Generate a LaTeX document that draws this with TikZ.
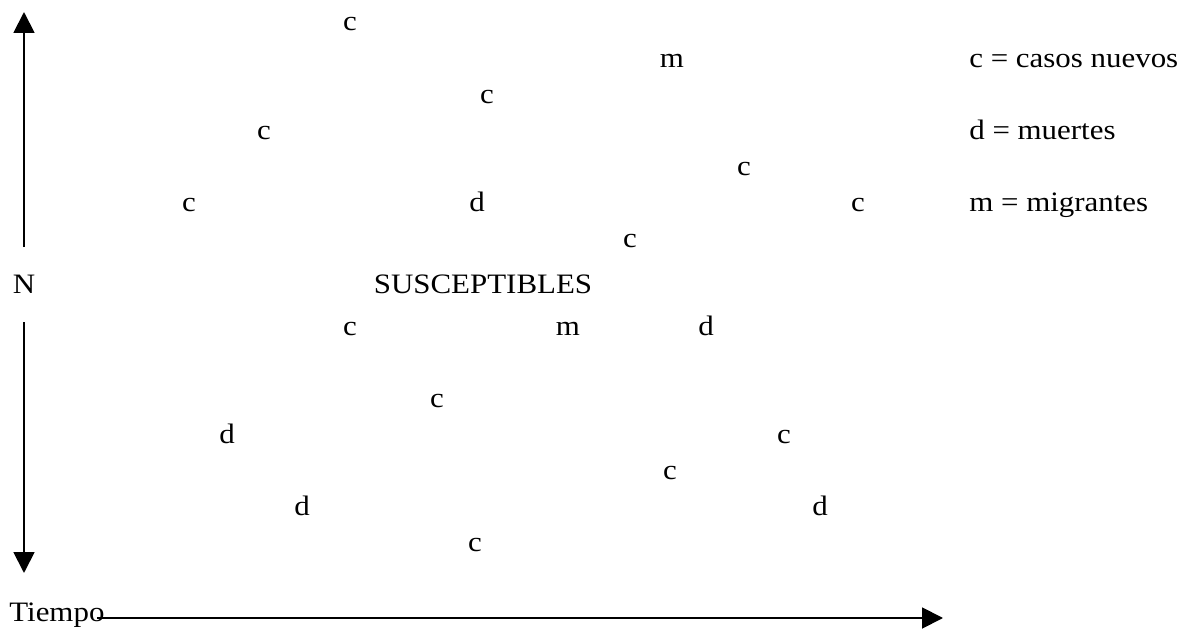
\documentclass[tikz,border=0pt]{standalone}
\usepackage{fontspec}
\setmainfont{Liberation Serif}[FakeStretch=1.1]
\usetikzlibrary{arrows.meta}
\begin{document}
\begin{tikzpicture}[x=0.02cm, y=-0.02cm, line join=round, >={Triangle[length=4.2mm,width=4.2mm]}, font=\fontsize{16}{19}\selectfont,
	lbl/.style={anchor=base, inner sep=0pt},
	key/.style={anchor=base west, inner sep=0pt},
	axis/.style={->, line width=1.1pt}]
	\def\xa{24} \def\yt{12} \def\yb{573} \def\xp{943} \def\yh{618}
	\useasboundingbox (0,0) rectangle (1184,631);
	\node[lbl, inner ysep=5.6mm] (N) at (\xa,294) {N};
	\coordinate (ytop) at (\xa,\yt);
	\coordinate (ybot) at (\xa,\yb);
	\draw[axis] (N.north) -- (ytop);
	\draw[axis] (N.south) -- (ybot);
	\node[key] (tiempo) at (9,622) {Tiempo};
	\coordinate (xend) at (\xp,\yh);
	\draw[axis] ([shift={(-8,-4)}]tiempo.base east) -- (xend);
	\node[lbl] (sus) at (483,294) {SUSCEPTIBLES};
	\node[lbl] (c1) at (350,31) {c};
	\node[lbl] (m1) at (672,68) {m};
	\node[lbl] (c2) at (487,104) {c};
	\node[lbl] (c3) at (264,140) {c};
	\node[lbl] (c4) at (744,176) {c};
	\node[lbl] (c5) at (189,212) {c};
	\node[lbl] (d1) at (477,212) {d};
	\node[lbl] (c6) at (858,212) {c};
	\node[lbl] (c7) at (630,248) {c};
	\node[lbl] (c8) at (350,336) {c};
	\node[lbl] (m2) at (568,336) {m};
	\node[lbl] (d2) at (706,336) {d};
	\node[lbl] (c9) at (437,408) {c};
	\node[lbl] (d3) at (227,444) {d};
	\node[lbl] (c10) at (784,444) {c};
	\node[lbl] (c11) at (670,480) {c};
	\node[lbl] (d4) at (302,516) {d};
	\node[lbl] (d5) at (820,516) {d};
	\node[lbl] (c12) at (475,552) {c};
	\node[key] (kc) at (969,68) {c = casos nuevos};
	\node[key] (kd) at (969,140) {d = muertes};
	\node[key] (km) at (969,212) {m = migrantes};
\end{tikzpicture}
\end{document}
